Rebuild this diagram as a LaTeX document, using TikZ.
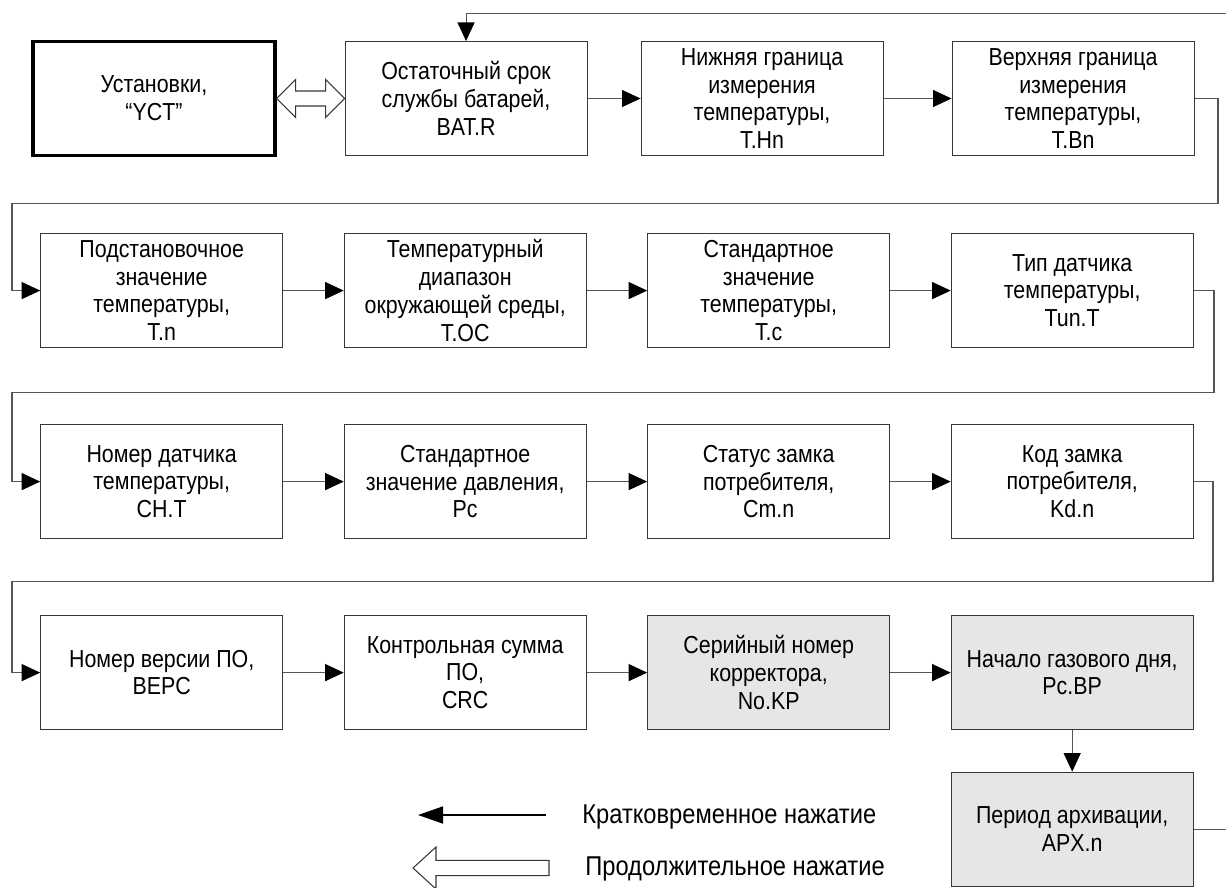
\documentclass[tikz,border=0pt]{standalone}
\usepackage{fontspec}
\setmainfont{Liberation Sans}[FakeStretch=0.87]
\usepackage{tikz}
\usetikzlibrary{positioning, arrows.meta}
\definecolor{linegray}{RGB}{85,85,85}
\definecolor{boxline}{RGB}{55,55,55}
\definecolor{boxgray}{RGB}{230,230,230}
\tikzstyle{param} = [rectangle, minimum width=4.84cm, minimum height=2.28cm, align=center, inner sep=0pt, draw=boxline, line width=0.6pt, font=\fontsize{14}{15.8}\selectfont]
\tikzstyle{menu} = [param, draw=black, line width=1.8pt]
\tikzstyle{vendor} = [param, fill=boxgray]
\tikzstyle{arrow} = [line width=0.6pt, draw=linegray, -{Triangle[length=0.37cm, width=0.34cm, color=black]}]
\tikzstyle{keyarrow} = [line width=1pt, draw=black, -{Triangle[length=0.5cm, width=0.34cm]}]
\tikzstyle{hollow} = [draw=boxline, line width=0.6pt, fill=white]
\tikzstyle{legend} = [anchor=west, inner sep=0pt, font=\fontsize{15.5}{17}\selectfont]

\begin{document}
\begin{tikzpicture}[x=0.02cm, y=-0.02cm, node distance=1.21cm]
        \useasboundingbox (0,0) rectangle (1226,887);

        % First row
        \node (ust) [menu] at (154,98.5) {Установки,\\“YCT”};
        \node (bat) [param, right=1.36cm of ust] {Остаточный срок\\службы батарей,\\BAT.R};
        \node (thn) [param, right=1.06cm of bat] {Нижняя граница\\измерения\\температуры,\\T.Hn};
        \node (tbn) [param, right=1.36cm of thn] {Верхняя граница\\измерения\\температуры,\\T.Bn};

        % Second row
        \node (tn) [param, below=1.52cm of ust, xshift=0.154cm] {Подстановочное\\значение\\температуры,\\T.n};
        \node (toc) [param, right=of tn] {Температурный\\диапазон\\окружающей среды,\\T.OC};
        \node (tc) [param, right=of toc] {Стандартное\\значение\\температуры,\\T.c};
        \node (tunt) [param, right=of tc] {Тип датчика\\температуры,\\Tun.T};

        % Third row
        \node (cht) [param, below=1.52cm of tn] {Номер датчика\\температуры,\\CH.T};
        \node (pc) [param, right=of cht] {Стандартное\\значение давления,\\Pc};
        \node (cmn) [param, right=of pc] {Статус замка\\потребителя,\\Cm.n};
        \node (kdn) [param, right=of cmn] {Код замка\\потребителя,\\Kd.n};

        % Fourth row
        \node (vers) [param, below=1.52cm of cht] {Номер версии ПО,\\BEPC};
        \node (crc) [param, right=of vers] {Контрольная сумма\\ПО,\\CRC};
        \node (nokp) [vendor, right=of crc] {Серийный номер\\корректора,\\No.KP};
        \node (pcbp) [vendor, right=of nokp] {Начало газового дня,\\Pc.BP};
        \node (apx) [vendor, below=0.83cm of pcbp] {Период архивации,\\APX.n};

        % Legend
        \node (short) [legend] at (582,817) {Кратковременное нажатие};
        \node (long) [legend] at (585,869) {Продолжительное нажатие};

        % Turning points
        \coordinate (r1) at (1218,203.3);
        \coordinate (l1) at (12,203.3);
        \coordinate (r2) at (1214,392.3);
        \coordinate (l2) at (12,392.3);
        \coordinate (r3) at (1213,581.7);
        \coordinate (l3) at (12,581.7);
        \coordinate (back) at (1232,13.5);
        \coordinate (s1) at (546,815);
        \coordinate (s0) at (418,815);

        % Arrows
        \draw [hollow] (ust.east) -- ++(19,-19) -- ++(0,11.5) -- ++(30,0) -- ++(0,-11.5) -- (bat.west)
              -- ++(-19,19) -- ++(0,-11.5) -- ++(-30,0) -- ++(0,11.5) -- cycle;
        \draw [arrow] (bat) -- (thn);
        \draw [arrow] (thn) -- (tbn);
        \draw [arrow] (tbn.east) -| (r1) -- (l1) |- (tn.west);

        \draw [arrow] (tn) -- (toc);
        \draw [arrow] (toc) -- (tc);
        \draw [arrow] (tc) -- (tunt);
        \draw [arrow] (tunt.east) -| (r2) -- (l2) |- (cht.west);

        \draw [arrow] (cht) -- (pc);
        \draw [arrow] (pc) -- (cmn);
        \draw [arrow] (cmn) -- (kdn);
        \draw [arrow] (kdn.east) -| (r3) -- (l3) |- (vers.west);

        \draw [arrow] (vers) -- (crc);
        \draw [arrow] (crc) -- (nokp);
        \draw [arrow] (nokp) -- (pcbp);
        \draw [arrow] (pcbp) -- (apx);
        \draw [arrow] (apx.east) -| (back) -| (bat.north);

        \draw [keyarrow] (s1) -- (s0);
        \draw [hollow] (413,868) -- (436,847) -- (436,860.3) -- (549,860.3) -- (549,875.7)
              -- (436,875.7) -- (436,889) -- cycle;

\end{tikzpicture}
\end{document}
